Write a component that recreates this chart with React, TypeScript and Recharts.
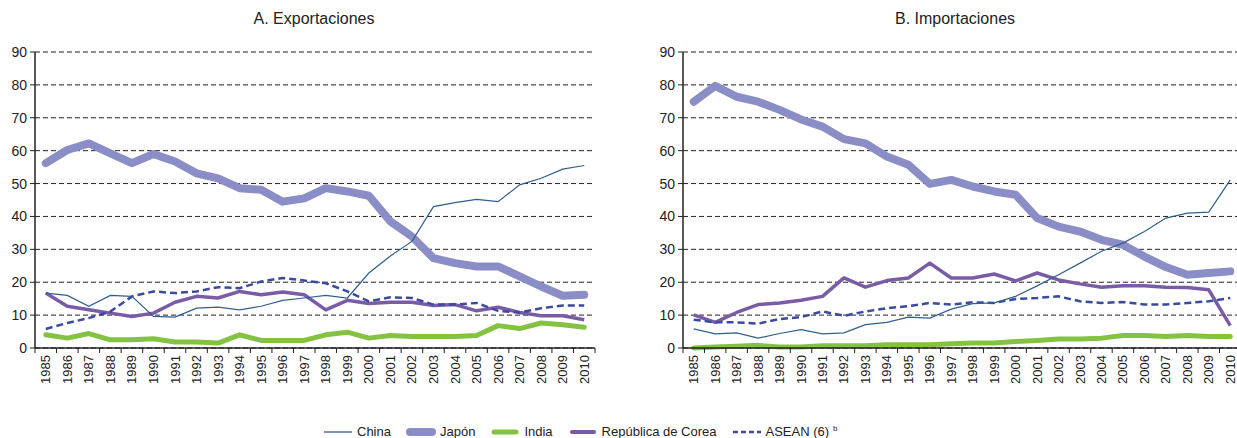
import { LineChart, Line, XAxis, YAxis, CartesianGrid } from "recharts";

const years = [
  "1985", "1986", "1987", "1988", "1989", "1990", "1991", "1992", "1993",
  "1994", "1995", "1996", "1997", "1998", "1999", "2000", "2001", "2002",
  "2003", "2004", "2005", "2006", "2007", "2008", "2009", "2010",
];
const yTicks = [0, 10, 20, 30, 40, 50, 60, 70, 80, 90];

// A. Exportaciones
const expChina = [16.7, 16, 12.7, 16, 15.7, 9.6, 9.4, 12.1, 12.4, 11.6, 12.7, 14.5, 15.2, 16, 15.2, 22.8, 28, 32.4, 43, 44.2, 45.2, 44.5, 49.6, 51.6, 54.4, 55.5];
const expJapon = [56.2, 60.2, 62.2, 59.2, 56.2, 59, 56.7, 53.1, 51.6, 48.6, 48.1, 44.5, 45.5, 48.6, 47.6, 46.3, 38.5, 33.9, 27.3, 25.8, 24.8, 24.8, 21.8, 18.7, 15.9, 16.2];
const expIndia = [4, 3, 4.4, 2.5, 2.5, 2.8, 1.8, 1.8, 1.5, 4, 2.3, 2.3, 2.3, 4, 4.8, 3, 3.8, 3.5, 3.5, 3.5, 3.8, 6.8, 5.9, 7.6, 7.1, 6.3];
const expCorea = [16.7, 12.7, 11.6, 10.6, 9.6, 10.6, 13.9, 15.7, 15.2, 17.2, 16.2, 17, 16.2, 11.6, 14.5, 13.5, 13.9, 13.9, 12.9, 13.2, 11.3, 12.4, 10.8, 9.8, 9.8, 8.6];
const expAsean = [5.8, 7.6, 9.1, 11.1, 15.7, 17.2, 16.7, 17.2, 18.5, 18.2, 20.2, 21.3, 20.5, 19.7, 17.2, 14.2, 15.4, 15.2, 13.2, 13.2, 13.7, 11.3, 10.8, 12.1, 12.9, 12.9];

// B. Importaciones
const impChina = [5.8, 4.3, 4.6, 3, 4.4, 5.6, 4.3, 4.6, 7.1, 7.8, 9.4, 9.1, 11.8, 13.5, 13.7, 15.7, 18.9, 22.3, 25.8, 29.4, 31.9, 35.4, 39.5, 41, 41.3, 51.1];
const impJapon = [74.9, 79.7, 76.4, 74.9, 72.4, 69.5, 67.3, 63.5, 62.2, 58.2, 55.7, 49.9, 51.1, 49.1, 47.6, 46.6, 39.5, 36.9, 35.4, 32.9, 31.4, 27.8, 24.6, 22.3, 22.8, 23.3];
const impIndia = [0, 0.3, 0.5, 0.8, 0.3, 0.3, 0.7, 0.7, 0.7, 1, 1, 1, 1.3, 1.5, 1.5, 2, 2.3, 2.7, 2.7, 3, 3.8, 3.8, 3.5, 3.8, 3.5, 3.5];
const impCorea = [10.1, 7.8, 10.8, 13.2, 13.7, 14.5, 15.7, 21.3, 18.5, 20.5, 21.3, 25.8, 21.3, 21.3, 22.5, 20.4, 22.8, 20.7, 19.5, 18.5, 18.9, 18.9, 18.5, 18.4, 17.7, 6.8];
const impAsean = [8.6, 7.8, 7.8, 7.4, 8.8, 9.4, 11.1, 9.8, 11.1, 12.1, 12.7, 13.7, 13.2, 13.9, 13.7, 14.9, 15.2, 15.7, 14.2, 13.7, 14, 13.2, 13.2, 13.7, 14.2, 15.2];

const FONT = "'Liberation Sans', Arial, sans-serif";
const INK = "#222";

const colors = {
  china: "#2f5f8f",
  japon: "#8b8ec6",
  india: "#84c341",
  corea: "#7a5ca6",
  asean: "#3a4aa2",
};

const buildRows = (china: number[], japon: number[], india: number[], corea: number[], asean: number[]) =>
  years.map((year, i) => ({
    year,
    china: china[i],
    japon: japon[i],
    india: india[i],
    corea: corea[i],
    asean: asean[i],
  }));

const exportRows = buildRows(expChina, expJapon, expIndia, expCorea, expAsean);
const importRows = buildRows(impChina, impJapon, impIndia, impCorea, impAsean);

// tick marks sit between the years, labels on the data points
const YearTick = ({ x, y, payload, index, step }: any) => (
  <g>
    <line x1={x - step / 2} x2={x - step / 2} y1={y} y2={y + 5} stroke={INK} />
    {index === years.length - 1 && (
      <line x1={x + step / 2} x2={x + step / 2} y1={y} y2={y + 5} stroke={INK} />
    )}
    <text
      transform={`translate(${x + 4.5},${y + 7}) rotate(-90)`}
      textAnchor="end"
      fontSize={13}
      fontFamily={FONT}
      fill={INK}
    >
      {payload.value}
    </text>
  </g>
);

function Panel({ rows, width, yWidth, step }: { rows: any[]; width: number; yWidth: number; step: number }) {
  return (
    <LineChart
      width={width}
      height={398}
      data={rows}
      margin={{ top: 52, right: 15, bottom: 0, left: 0 }}
    >
      <CartesianGrid vertical={false} stroke={INK} strokeDasharray="5 3" />
      <XAxis
        dataKey="year"
        interval={0}
        height={50}
        tickSize={0}
        tickMargin={0}
        padding={{ left: step / 2, right: step / 2 }}
        axisLine={{ stroke: INK, strokeWidth: 1.5 }}
        tickLine={false}
        tick={<YearTick step={step} />}
      />
      <YAxis
        domain={[0, 90]}
        ticks={yTicks}
        width={yWidth}
        tickSize={5}
        tickMargin={3}
        axisLine={{ stroke: INK, strokeWidth: 1.5 }}
        tickLine={{ stroke: INK }}
        tick={{ fontSize: 14, fill: INK, fontFamily: FONT }}
        interval={0}
      />
      <Line dataKey="japon" stroke={colors.japon} strokeWidth={8} strokeLinecap="round" strokeLinejoin="round" dot={false} isAnimationActive={false} />
      <Line dataKey="india" stroke={colors.india} strokeWidth={5} strokeLinecap="round" strokeLinejoin="round" dot={false} isAnimationActive={false} />
      <Line dataKey="corea" stroke={colors.corea} strokeWidth={3.5} strokeLinejoin="round" dot={false} isAnimationActive={false} />
      <Line dataKey="asean" stroke={colors.asean} strokeWidth={2.5} strokeDasharray="7 4" dot={false} isAnimationActive={false} />
      <Line dataKey="china" stroke={colors.china} strokeWidth={1.2} dot={false} isAnimationActive={false} />
    </LineChart>
  );
}

const legendItems = [
  { key: "china", label: "China", width: 1.3, dash: undefined },
  { key: "japon", label: "Japón", width: 8, dash: undefined },
  { key: "india", label: "India", width: 5, dash: undefined },
  { key: "corea", label: "República de Corea", width: 4, dash: undefined },
  { key: "asean", label: "ASEAN (6)", width: 2.5, dash: "5 3" },
];

export default function App() {
  return (
    <div
      style={{
        position: "absolute",
        left: 0,
        top: 0,
        width: 1237,
        height: 438,
        overflow: "hidden",
        background: "#fff",
        fontFamily: FONT,
        color: INK,
      }}
    >
      <div style={{ position: "absolute", left: 214, width: 200, top: 10, textAlign: "center", fontSize: 16 }}>
        A. Exportaciones
      </div>
      <div style={{ position: "absolute", left: 855, width: 200, top: 10, textAlign: "center", fontSize: 16 }}>
        B. Importaciones
      </div>
      <div style={{ position: "absolute", left: 0, top: 0 }}>
        <Panel rows={exportRows} width={610} yWidth={35} step={560 / 26} />
      </div>
      <div style={{ position: "absolute", left: 638, top: 0 }}>
        <Panel rows={importRows} width={618} yWidth={45} step={558.5 / 26} />
      </div>
      <div
        style={{
          position: "absolute",
          left: 323,
          top: 424,
          display: "flex",
          alignItems: "center",
          gap: 15,
          fontSize: 13,
          whiteSpace: "nowrap",
        }}
      >
        {legendItems.map((it) => (
          <div key={it.key} style={{ display: "flex", alignItems: "center", gap: 4 }}>
            <svg width={30} height={10}>
              <line
                x1={it.width > 3 ? 4 : 1}
                x2={it.width > 3 ? 26 : 29}
                y1={5}
                y2={5}
                stroke={(colors as any)[it.key]}
                strokeWidth={it.width}
                strokeLinecap={it.width > 3 ? "round" : "butt"}
                strokeDasharray={it.dash}
              />
            </svg>
            <span>
              {it.label}
              {it.key === "asean" && <sup style={{ fontSize: 8, marginLeft: 4 }}>b</sup>}
            </span>
          </div>
        ))}
      </div>
    </div>
  );
}
